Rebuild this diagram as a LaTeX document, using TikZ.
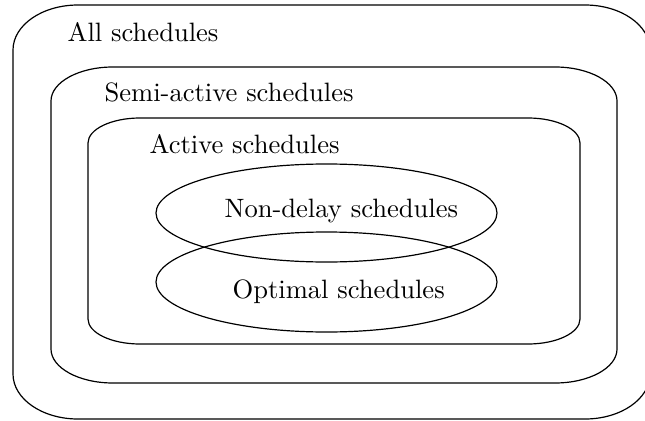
\documentclass[tikz,border=0pt]{standalone}
\newcommand\myroundbox[6]{% x1 y1 x2 y2 rx ry
  \draw (#1,#2+#6) -- (#1,#4-#6)
    arc[start angle=180, end angle=90, x radius=#5, y radius=#6]
    -- (#3-#5,#4)
    arc[start angle=90, end angle=0, x radius=#5, y radius=#6]
    -- (#3,#2+#6)
    arc[start angle=0, end angle=-90, x radius=#5, y radius=#6]
    -- (#1+#5,#2)
    arc[start angle=270, end angle=180, x radius=#5, y radius=#6]
    -- cycle;}
\tikzset{label/.style={anchor=base west, inner sep=0pt, font=\normalsize}}
\begin{document}
\begin{tikzpicture}[x=0.3764pt, y=0.3764pt, line width=0.45pt]
\clip (0,0) rectangle (645,420);
\myroundbox{13}{1}{650}{415}{65}{45}
\myroundbox{51}{37}{617}{353}{62}{34}
\myroundbox{88}{76}{580}{302}{52}{25}
\draw (326.5,207) ellipse[x radius=170.5, y radius=49];
\draw (326.5,138) ellipse[x radius=170.5, y radius=50];
\node[label] (all) at (67,378) {All schedules};
\node[label] (semi) at (104,318) {Semi-active schedules};
\node[label] (act) at (149,267) {Active schedules};
\node[label] (nd) at (224,203) {Non-delay schedules};
\node[label] (opt) at (232,122) {Optimal schedules};
\end{tikzpicture}
\end{document}
